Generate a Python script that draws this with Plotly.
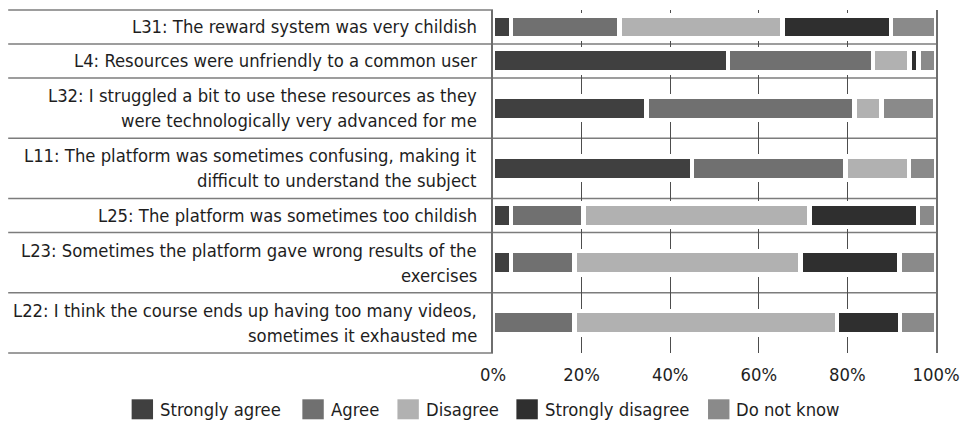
import plotly.graph_objects as go

# Survey statements (rows, top to bottom); "<br>" marks a line break in the label cell
statements = [
    "L31: The reward system was very childish",
    "L4: Resources were unfriendly to a common user",
    "L32: I struggled a bit to use these resources as they<br>were technologically very advanced for me",
    "L11: The platform was sometimes confusing, making it<br>difficult to understand the subject",
    "L25: The platform was sometimes too childish",
    "L23: Sometimes the platform gave wrong results of the<br>exercises",
    "L22: I think the course ends up having too many videos,<br>sometimes it exhausted me",
]

# Share of answers per statement (%)
strongly_agree = [4.1, 53.1, 34.7, 44.9, 4.1, 4.1, 0.0]
agree = [24.5, 32.7, 46.9, 34.7, 16.3, 14.3, 18.4]
disagree = [36.7, 8.2, 6.1, 14.3, 51.0, 51.0, 59.2]
strongly_disagree = [24.5, 2.0, 0.0, 0.0, 24.5, 22.4, 14.3]
do_not_know = [10.2, 4.1, 12.2, 6.1, 4.1, 8.2, 8.2]

series_names = ["Strongly agree", "Agree", "Disagree", "Strongly disagree", "Do not know"]
series_values = [strongly_agree, agree, disagree, strongly_disagree, do_not_know]
series_colors = ["#404040", "#707070", "#b1b1b1", "#2f2f2f", "#8a8a8a"]

x_tick_vals = [0, 20, 40, 60, 80, 100]
x_tick_text = ["0%", "20%", "40%", "60%", "80%", "100%"]

# ---- layout geometry -------------------------------------------------------
W, H = 970, 423
M_L, M_R, M_T, M_B = 493, 32, 10, 70
PLOT_W = W - M_L - M_R
PLOT_H = H - M_T - M_B

FONT = "DejaVu Sans Condensed, Liberation Sans, Arial, sans-serif"
FONT_SIZE = 18.3
TEXT_COLOR = "#1e1e1e"
LINE_COLOR = "#7c7c7c"

ROW_H = {1: 34.0, 2: 60.3}      # row height in y units by number of label lines
BAR_W = 23.5                    # includes the white separator stroke
SEP_W = 4.5                     # white gap between stacked segments
LINE_SPACING = 25               # px between label lines

n_lines = [s.count("<br>") + 1 for s in statements]
heights = [ROW_H[n] for n in n_lines]
edges = [0.0]
for h in heights:
    edges.append(edges[-1] + h)
total = edges[-1]
centers = [(edges[i] + edges[i + 1]) / 2 for i in range(len(statements))]


def px_x(px):
    return (px - M_L) / PLOT_W


def px_y(py):
    return (H - M_B - py) / PLOT_H


fig = go.Figure()

for name, vals, col in zip(series_names, series_values, series_colors):
    fig.add_trace(go.Bar(
        name=name,
        x=vals,
        y=centers,
        width=[BAR_W] * len(vals),
        orientation="h",
        marker=dict(color=col, line=dict(color="white", width=SEP_W)),
        showlegend=False,
        hovertemplate="%{x:.1f}%<extra>" + name + "</extra>",
    ))

shapes = []
annotations = []

# Row separators: outer edges only under the label column, inner ones across the chart
left_edge = px_x(6)
for i, e in enumerate(edges):
    yy = 1 - e / total
    x_end = 0 if i in (0, len(edges) - 1) else 1
    shapes.append(dict(type="line", xref="paper", yref="paper",
                       x0=left_edge, x1=x_end, y0=yy, y1=yy,
                       line=dict(color=LINE_COLOR, width=1.6), layer="below"))

# Statement labels, right aligned against the chart, one annotation per line
for s, c in zip(statements, centers):
    parts = s.split("<br>")
    k = len(parts)
    for j, part in enumerate(parts):
        shift = ((k - 1) / 2 - j) * LINE_SPACING
        annotations.append(dict(
            text=part, xref="paper", yref="y", x=0, y=c,
            xanchor="right", yanchor="middle", xshift=-14, yshift=shift,
            showarrow=False, font=dict(family=FONT, size=FONT_SIZE, color=TEXT_COLOR),
        ))

# Legend drawn as square swatches with labels
legend_px = [130, 301.5, 397, 516.5, 709]
sw_w, sw_h = 21.5, 20
leg_cy = 409.3
for name, col, lx in zip(series_names, series_colors, legend_px):
    shapes.append(dict(type="rect", xref="paper", yref="paper",
                       x0=px_x(lx), x1=px_x(lx + sw_w),
                       y0=px_y(leg_cy + sw_h / 2), y1=px_y(leg_cy - sw_h / 2),
                       fillcolor=col, line=dict(width=0)))
    annotations.append(dict(
        text=name, xref="paper", yref="paper",
        x=px_x(lx + sw_w + 5), y=px_y(leg_cy),
        xanchor="left", yanchor="middle", showarrow=False,
        font=dict(family=FONT, size=FONT_SIZE, color=TEXT_COLOR),
    ))

fig.update_layout(
    width=W, height=H,
    margin=dict(l=M_L, r=M_R, t=M_T, b=M_B, pad=0),
    barmode="stack",
    paper_bgcolor="white",
    plot_bgcolor="rgba(0,0,0,0)",
    font=dict(family=FONT, size=FONT_SIZE, color=TEXT_COLOR),
    showlegend=False,
    shapes=shapes,
    annotations=annotations,
    xaxis=dict(
        range=[0, 100],
        tickvals=x_tick_vals,
        ticktext=x_tick_text,
        showgrid=True, gridcolor="#4d4d4d", gridwidth=1.3,
        zeroline=False, showline=False, ticks="",
        ticklabelstandoff=9,
        tickfont=dict(family=FONT, size=FONT_SIZE, color=TEXT_COLOR),
        fixedrange=True,
    ),
    yaxis=dict(
        range=[total, 0],
        showticklabels=False, showgrid=False, zeroline=False, ticks="",
        showline=True, mirror=True, linecolor="#6e6e6e", linewidth=2,
        fixedrange=True,
    ),
)

fig.write_html("out.html")
